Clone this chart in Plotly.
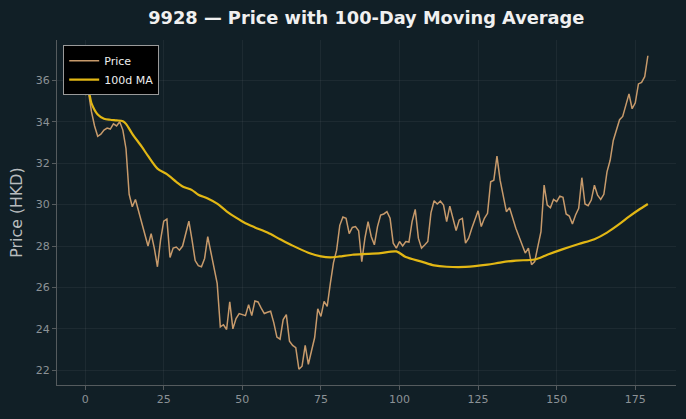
import plotly.graph_objects as go

# ---- data ----
price = [
    35.3, 35.5, 34.5, 33.8, 33.3, 33.4, 33.6, 33.7, 33.65, 33.9,
    33.8, 34.0, 33.6, 32.7, 30.5, 29.9, 30.25, 29.7, 29.1, 28.6,
    28.0, 28.6, 27.9, 27.0, 28.3, 29.2, 29.3, 27.45, 27.9, 27.95,
    27.8, 28.0, 28.6, 29.2, 28.3, 27.3, 27.05, 27.0, 27.4, 28.45,
    27.7, 27.0, 26.2, 24.1, 24.2, 23.97, 25.3, 24.0, 24.5, 24.74,
    24.7, 24.64, 25.17, 24.64, 25.35, 25.3, 25.0, 24.74, 24.8, 24.85,
    24.3, 23.6, 23.5, 24.45, 24.69, 23.41, 23.2, 23.09, 22.05, 22.2,
    23.2, 22.29, 22.93, 23.57, 24.97, 24.6, 25.33, 25.09, 26.2, 27.2,
    27.8, 29.0, 29.4, 29.34, 28.6, 28.9, 28.94, 28.74, 27.25, 28.38,
    29.18, 28.46, 28.06, 28.94, 29.5, 29.55, 29.66, 29.34, 28.14, 27.9,
    28.22, 28.0, 28.22, 28.19, 29.18, 29.77, 28.38, 27.9, 28.05, 28.22,
    29.6, 30.19, 30.03, 30.17, 29.98, 29.18, 29.93, 29.26, 28.75, 29.26,
    29.34, 28.14, 28.38, 28.86, 29.26, 29.7, 28.94, 29.34, 29.58, 31.1,
    31.18, 32.34, 31.18, 30.46, 29.66, 29.85, 29.34, 28.86, 28.46, 28.06,
    27.66, 27.9, 27.1, 27.25, 27.9, 28.7, 30.94, 29.98, 29.85, 30.25,
    30.14, 30.41, 30.35, 29.55, 29.45, 29.07, 29.5, 29.82, 31.3, 30.03,
    29.95, 30.22, 30.94, 30.46, 30.25, 30.5, 31.58, 32.14, 33.1, 33.58,
    34.1, 34.26, 34.79, 35.35, 34.63, 34.92, 35.83, 35.9, 36.18, 37.19,
]
days = list(range(len(price)))

ma_days = [0, 1, 2, 4, 6, 8, 10, 12, 13, 15, 18, 20, 23, 26, 29, 31, 34, 36,
           39, 42, 45, 48, 51, 54, 58, 62, 66, 71, 75, 78, 81, 85, 90, 94, 99,
           102, 107, 111, 115, 121, 128, 132, 137, 143, 147, 152, 157, 162,
           166, 170, 173, 176, 179]
ma_vals = [35.3, 35.5, 34.9, 34.35, 34.15, 34.1, 34.07, 34.03, 33.9, 33.42,
           32.8, 32.35, 31.74, 31.47, 31.1, 30.88, 30.7, 30.48, 30.3, 30.05,
           29.68, 29.37, 29.1, 28.9, 28.65, 28.33, 28.02, 27.68, 27.5, 27.45,
           27.5, 27.58, 27.62, 27.66, 27.74, 27.47, 27.25, 27.07, 27.0, 26.99,
           27.1, 27.2, 27.3, 27.35, 27.58, 27.85, 28.1, 28.33, 28.65, 29.07,
           29.42, 29.74, 30.03]

title_text = "9928 — Price with 100-Day Moving Average"
y_title = "Price (HKD)"
x_ticks = [0, 25, 50, 75, 100, 125, 150, 175]
y_ticks = [22, 24, 26, 28, 30, 32, 34, 36]

BG = "#111f26"
FONT = "DejaVu Sans"

fig = go.Figure()
fig.add_trace(go.Scatter(x=days, y=price, mode="lines", name="Price",
                         line=dict(color="#c79a6b", width=1.5)))
fig.add_trace(go.Scatter(x=ma_days, y=ma_vals, mode="lines", name="100d MA",
                         line=dict(color="#e2b714", width=2.2, shape="spline",
                                   smoothing=0.8)))

fig.update_layout(
    width=686, height=419,
    paper_bgcolor=BG, plot_bgcolor=BG,
    margin=dict(l=57, r=10, t=40, b=34),
    font=dict(family=FONT, color="#8c9296", size=11),
    title=dict(text="<b>" + title_text + "</b>", x=0.534, xanchor="center",
               y=0.957, yanchor="middle",
               font=dict(family=FONT, size=17.8, color="#f0f0f0")),
    showlegend=True,
    legend=dict(x=0.01, y=0.985, xanchor="left", yanchor="top",
                bgcolor="#000000", bordercolor="#9a9a9a", borderwidth=1,
                font=dict(family=FONT, size=11, color="#eeeeee"),
                tracegroupgap=0, itemwidth=30),
)
fig.update_xaxes(range=[-8.95, 187.95], tickvals=x_ticks,
                 showgrid=True, gridcolor="rgba(255,255,255,0.05)",
                 zeroline=False, showline=True, linecolor="#555b5e",
                 ticks="outside", ticklen=4, tickcolor="#555b5e",
                 tickfont=dict(color="#8c9296", size=11))
fig.update_yaxes(range=[21.29, 37.95], tickvals=y_ticks,
                 showgrid=True, gridcolor="rgba(255,255,255,0.05)",
                 zeroline=False, showline=True, linecolor="#555b5e",
                 ticks="outside", ticklen=4, tickcolor="#555b5e",
                 tickfont=dict(color="#8c9296", size=11),
                 title=dict(text=y_title, standoff=9,
                            font=dict(family=FONT, size=15.8, color="#b8bcbe")))

fig.write_html("out.html")
